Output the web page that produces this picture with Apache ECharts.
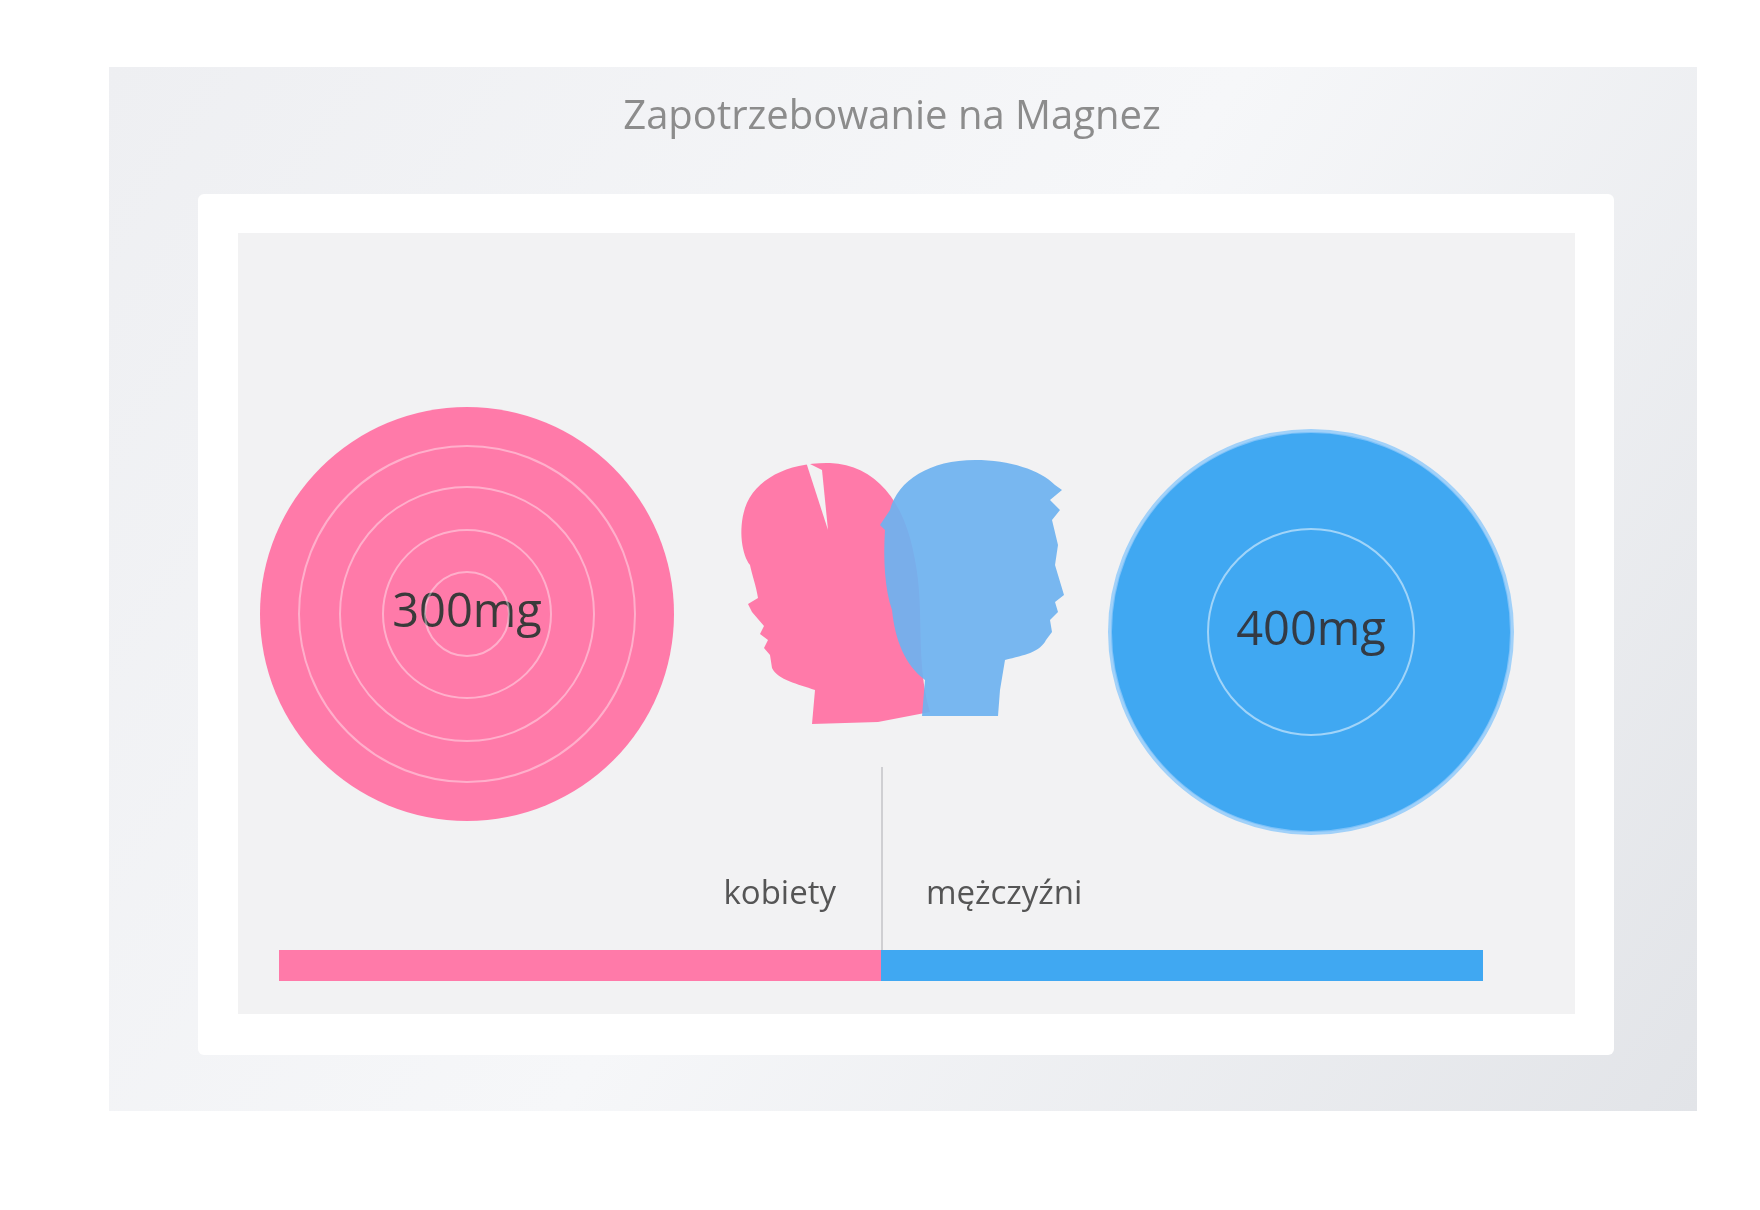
<!DOCTYPE html>
<html><head><meta charset="utf-8">
<script src="https://cdn.jsdelivr.net/npm/echarts@6/dist/echarts.min.js"></script>
<style>html,body{margin:0;background:#fff}#c{width:1760px;height:1210px}</style>
</head><body><div id="c"></div>
<script>
const title = 'Zapotrzebowanie na Magnez';
const groups = ['kobiety', 'mężczyźni'];
const values = [300, 400];
const labels = ['300mg', '400mg'];
const barShare = [1, 1];
const colors = ['#ff7aa9', '#40a8f2'];

const girlPath = 'M812 724 L815 690 C798 684 778 680 772 668 L770 655 L764 648 L768 640 L760 634 L764 626 L752 612 L748 604 L758 598 C756 585 752 575 750 565 C742 555 738 530 745 508 C755 478 790 462 830 463 C875 465 905 500 915 560 C925 610 915 660 930 712 L878 722 Z';
const notchPath = 'M806 462 L822 470 L828 530 Z';
const boyPath = 'M922 716 L925 680 C905 665 895 640 892 610 C885 590 883 560 885 530 L880 525 L890 510 C898 480 930 460 975 460 C1010 460 1040 470 1055 485 L1062 490 L1050 500 L1060 510 L1052 520 L1058 545 L1055 565 L1064 595 L1055 602 L1058 612 L1050 620 L1052 632 L1046 640 C1040 652 1025 655 1005 660 L1000 690 L998 716 Z';
echarts.graphic.registerShape('girlHead', echarts.graphic.extendPath(girlPath, {}));
echarts.graphic.registerShape('girlNotch', echarts.graphic.extendPath(notchPath, {}));
echarts.graphic.registerShape('boyHead', echarts.graphic.extendPath(boyPath, {}));

const chart = echarts.init(document.getElementById('c'));
const font = '"Open Sans", "Noto Sans", sans-serif';
const ring = (cx, cy, r, op) => ({type:'circle', z:10, shape:{cx, cy, r}, style:{fill:'none', stroke:'rgba(255,255,255,' + op + ')', lineWidth:2}});

chart.setOption({
  backgroundColor: '#fff',
  animation: false,
  graphic: [
    {type:'rect', z:-10, shape:{x:109, y:67, width:1588, height:1044}, style:{fill:new echarts.graphic.LinearGradient(0,0,1,1,[{offset:0,color:'#eeeff2'},{offset:0.5,color:'#f6f7f9'},{offset:1,color:'#e2e4e8'}])}},
    {type:'rect', z:-9, shape:{x:198, y:194, width:1416, height:861, r:6}, style:{fill:'#ffffff'}},
    {type:'rect', z:-8, shape:{x:238, y:233, width:1337, height:781}, style:{fill:'#f2f2f3'}},
    {type:'text', z:3, x:892, y:118, style:{text:title, font:'40px ' + font, fill:'#8c8c8c', align:'center', verticalAlign:'middle'}},
    ring(467,614,168,0.4), ring(467,614,127,0.4), ring(467,614,84,0.4), ring(467,614,42,0.4),
    ring(1311,632,103,0.5),
    {type:'circle', z:9, shape:{cx:1311, cy:632, r:201}, style:{fill:'none', stroke:'rgba(140,200,250,0.8)', lineWidth:4}},
    {type:'girlHead', z:5, shape:{}, style:{fill:'#ff7aa9'}},
    {type:'girlNotch', z:6, shape:{}, style:{fill:'#f2f2f3'}},
    {type:'boyHead', z:7, shape:{}, style:{fill:'rgba(110,178,240,0.92)'}},
    {type:'line', z:3, shape:{x1:882, y1:767, x2:882, y2:976}, style:{stroke:'#cfcfd2', lineWidth:2}},
    {type:'text', z:3, x:836, y:895, style:{text:groups[0], font:'33px ' + font, fill:'#555', align:'right', verticalAlign:'middle'}},
    {type:'text', z:3, x:926, y:895, style:{text:groups[1], font:'33px ' + font, fill:'#555', align:'left', verticalAlign:'middle'}}
  ],
  grid: {left:279, width:1204, top:950, height:31},
  xAxis: {type:'value', min:0, max:2, show:false},
  yAxis: {type:'category', data:['share'], show:false},
  series: [
    {type:'bar', stack:'s', data:[barShare[0]], barWidth:31, itemStyle:{color:colors[0]}, z:4},
    {type:'bar', stack:'s', data:[barShare[1]], barWidth:31, itemStyle:{color:colors[1]}, z:4},
    {type:'pie', center:[467,614], radius:[0,207], z:2, silent:true, data:[{name:groups[0], value:values[0]}],
     itemStyle:{color:colors[0]}, label:{show:true, position:'center', formatter:labels[0], fontSize:47, fontFamily:font, color:'#3a3a3a'}, labelLine:{show:false}},
    {type:'pie', center:[1311,632], radius:[0,200], z:2, silent:true, data:[{name:groups[1], value:values[1]}],
     itemStyle:{color:colors[1]}, label:{show:true, position:'center', formatter:labels[1], fontSize:47, fontFamily:font, color:'#333a44'}, labelLine:{show:false}}
  ]
});
</script></body></html>
